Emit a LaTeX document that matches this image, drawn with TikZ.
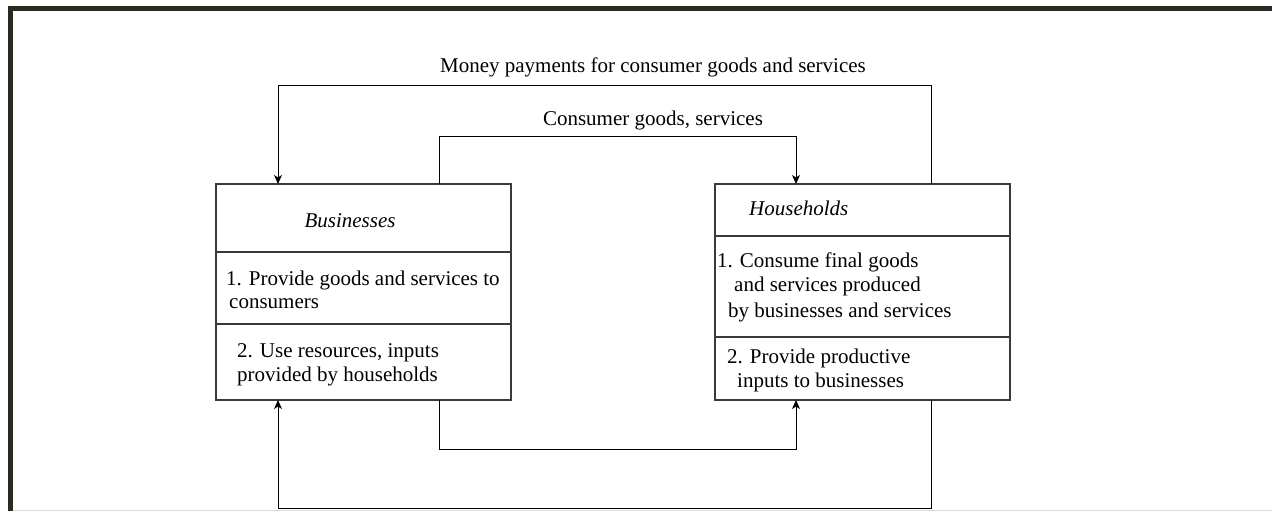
\documentclass[tikz,border=0pt]{standalone}
\usepackage{fontspec}
\setmainfont{Liberation Serif}
\usetikzlibrary{arrows.meta}
\definecolor{framecol}{HTML}{2B2A20}
\definecolor{linegray}{HTML}{3A3A3A}
\definecolor{edgegray}{HTML}{DADADA}
\begin{document}
\begin{tikzpicture}[x=1pt,y=-1pt,
  cell/.style={draw=linegray,line width=1.1pt,minimum width=295pt,anchor=north west,inner sep=0pt,outer sep=0pt},
  txt/.style={anchor=base west,inner sep=0pt,font=\fontsize{21}{25}\selectfont},
  lbl/.style={anchor=base,inner sep=0pt,font=\fontsize{21}{25}\selectfont},
  flow/.style={draw=black,line width=1pt},
  arr/.style={flow,-{Stealth[length=9pt,width=8pt,inset=2.5pt]}}]
\useasboundingbox (0,0) rectangle (1272,511);

% page frame
\draw[framecol,line width=4.6pt] (10.3,511) -- (10.3,8.6) -- (1272,8.6);
\draw[edgegray,line width=0.8pt] (12.6,510) -- (1272,510);

% Businesses
\node[cell,minimum height=68pt] (bhead) at (216,184) {};
\node[cell,minimum height=72pt] (bone) at (216,252) {};
\node[cell,minimum height=76pt] (btwo) at (216,324) {};
\node[lbl] (bname) at (350,227) {\itshape Businesses};
\node[txt] (b1a) at (226,285) {1. Provide goods and services to};
\node[txt] (b1b) at (229,308) {consumers};
\node[txt] (b2a) at (237,357) {2. Use resources, inputs};
\node[txt] (b2b) at (237,381) {provided by households};

% Households
\node[cell,minimum height=52pt] (hhead) at (715,184) {};
\node[cell,minimum height=101pt] (hone) at (715,236) {};
\node[cell,minimum height=63pt] (htwo) at (715,337) {};
\node[txt] (hname) at (749,215) {\itshape Households};
\node[txt] (h1a) at (717,267) {1. Consume final goods};
\node[txt] (h1b) at (734,291) {and services produced};
\node[txt] (h1c) at (728,317) {by businesses and services};
\node[txt] (h2a) at (727,363) {2. Provide productive};
\node[txt] (h2b) at (737,387) {inputs to businesses};

% corner points of the flows
\coordinate (mL) at (278,86);
\coordinate (mR) at (931,86);
\coordinate (gL) at (439,136);
\coordinate (gR) at (796,136);
\coordinate (iL) at (439,449);
\coordinate (iR) at (796,449);
\coordinate (pL) at (278,508);
\coordinate (pR) at (931,508);

% money payments: households -> businesses
\draw[arr] (hhead.north -| mR) -- (mR) -- (mL) -- (bhead.north -| mL);
\node[lbl] (mtext) at (653,73) {Money payments for consumer goods and services};

% consumer goods: businesses -> households
\draw[arr] (bhead.north -| gL) -- (gL) -- (gR) -- (hhead.north -| gR);
\node[lbl] (gtext) at (653,125) {Consumer goods, services};

% lower loops
\draw[arr] (btwo.south -| iL) -- (iL) -- (iR) -- (htwo.south -| iR);
\draw[arr] (htwo.south -| pR) -- (pR) -- (pL) -- (btwo.south -| pL);
\end{tikzpicture}
\end{document}
